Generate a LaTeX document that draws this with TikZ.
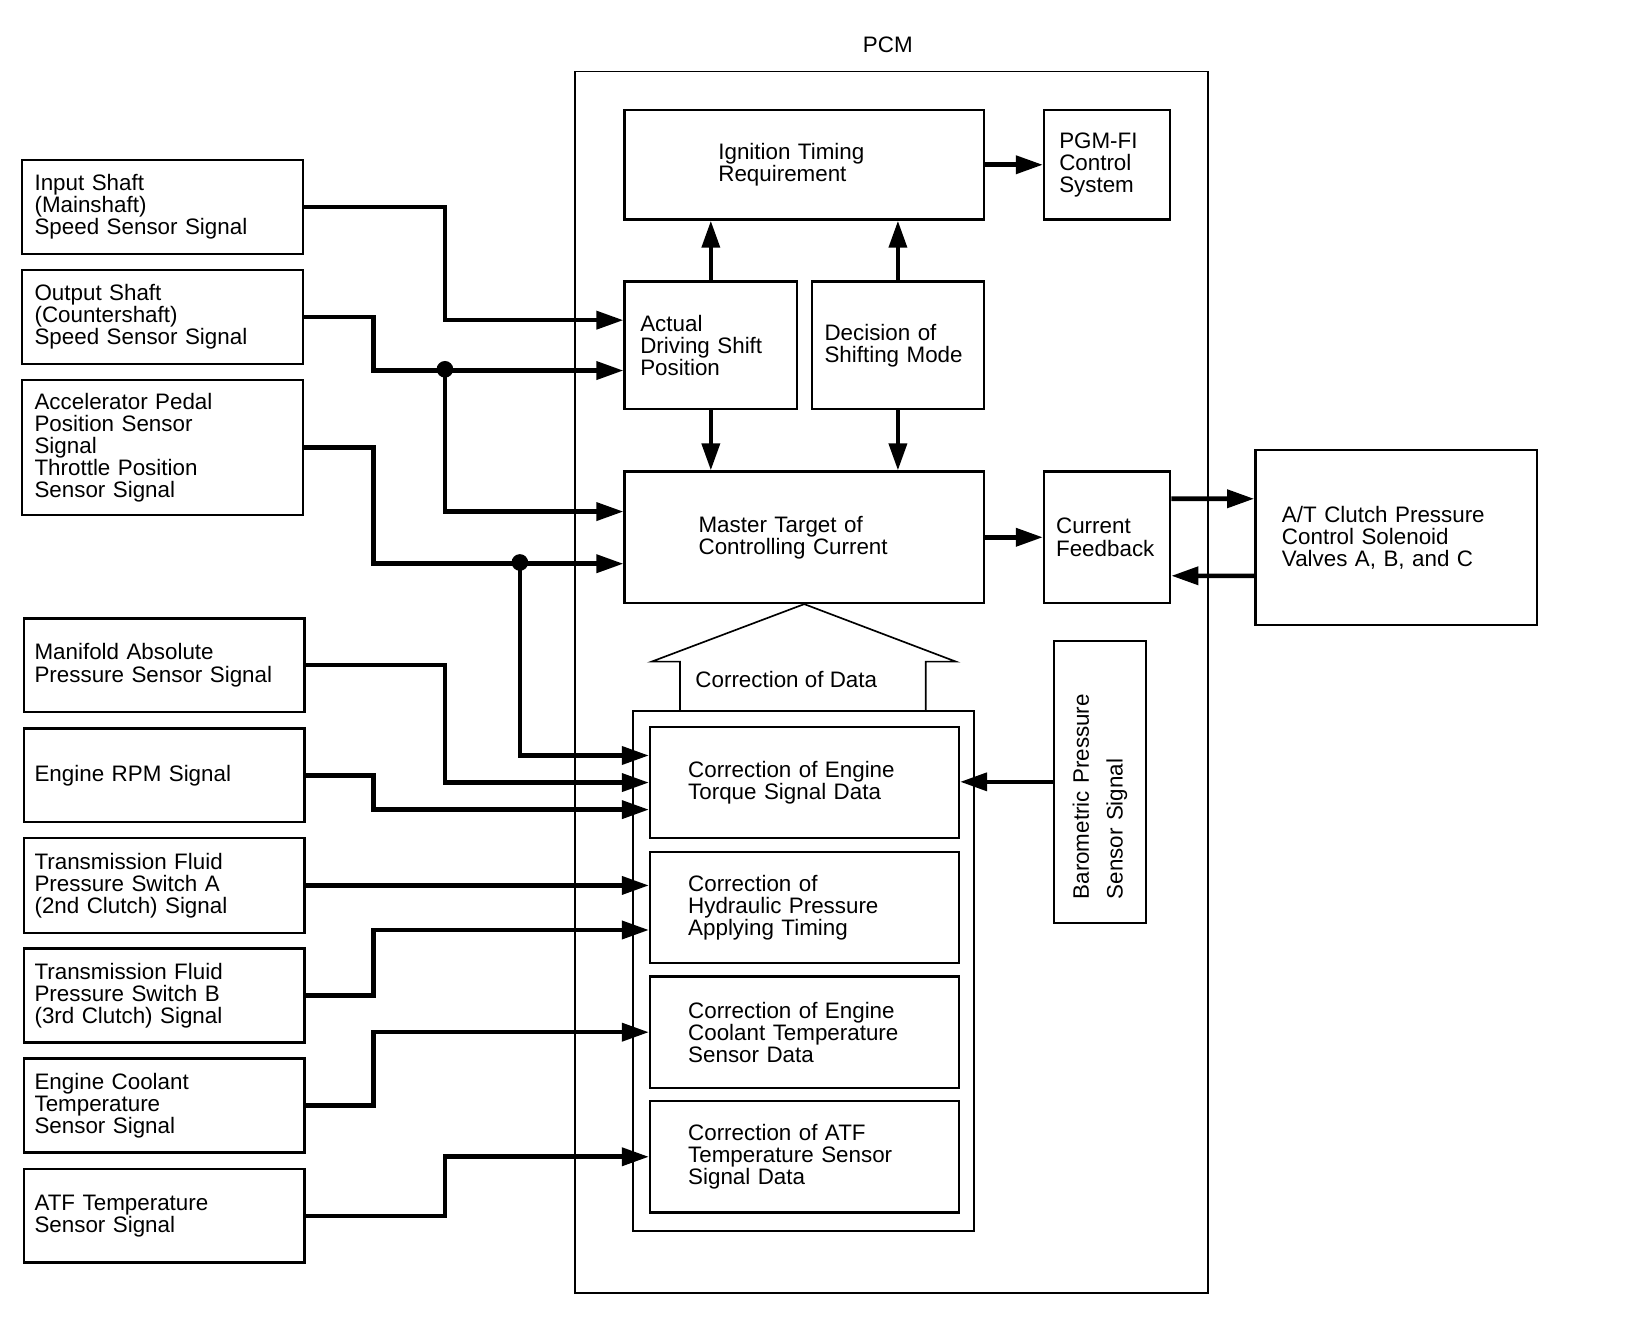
\documentclass[tikz,border=0pt]{standalone}
\usepackage{fontspec}
\setmainfont{Liberation Sans}
\usetikzlibrary{arrows.meta,calc}
\newcommand\fsz{\fontsize{10.75pt}{10.6pt}\selectfont}
\begin{document}
\begin{tikzpicture}[x=0.5pt,y=-0.5pt,
  box/.style={draw, line width=1.2pt, anchor=north west, inner ysep=0pt, align=left, font=\fsz},
  thinbox/.style={draw, line width=0.8pt, anchor=north west, inner sep=0pt},
  conn/.style={line width=2.2pt, -{Triangle[length=13pt,width=8.5pt]}},
  lbl/.style={font=\fsz, inner sep=0pt}]
\useasboundingbox (0,0) rectangle (1568,1276);

% PCM frame
\node[thinbox, minimum width=304.25pt, minimum height=586.7pt] (pcm) at (551.5,68) {};
\node[lbl] (pcml) at (853,42.7) {PCM};

% left input boxes
\node[box, minimum width=135pt, minimum height=45.2pt, text width=123pt, inner xsep=6pt] (in1) at (20,152.6) {Input Shaft\\(Mainshaft)\\Speed Sensor Signal};
\node[box, minimum width=135pt, minimum height=45.35pt, text width=123pt, inner xsep=6pt] (in2) at (20,258) {Output Shaft\\(Countershaft)\\Speed Sensor Signal};
\node[box, minimum width=135pt, minimum height=64.8pt, text width=123pt, inner xsep=6pt] (in3) at (20,364) {Accelerator Pedal\\Position Sensor\\Signal\\Throttle Position\\Sensor Signal};
\node[box, minimum width=134.75pt, minimum height=44.9pt, text width=124.75pt, inner xsep=5pt] (in4) at (22,593) {Manifold Absolute\\Pressure Sensor Signal};
\node[box, minimum width=134.75pt, minimum height=45pt, text width=124.75pt, inner xsep=5pt] (in5) at (22,698.6) {Engine RPM Signal};
\node[box, minimum width=134.75pt, minimum height=45.5pt, text width=124.75pt, inner xsep=5pt] (in6) at (22,804) {Transmission Fluid\\Pressure Switch A\\(2nd Clutch) Signal};
\node[box, minimum width=134.75pt, minimum height=45.3pt, text width=124.75pt, inner xsep=5pt] (in7) at (22,910) {Transmission Fluid\\Pressure Switch B\\(3rd Clutch) Signal};
\node[box, minimum width=134.75pt, minimum height=45pt, text width=124.75pt, inner xsep=5pt] (in8) at (22,1016) {Engine Coolant\\Temperature\\Sensor Signal};
\node[box, minimum width=134.75pt, minimum height=45pt, text width=124.75pt, inner xsep=5pt] (in9) at (22,1122) {ATF Temperature\\Sensor Signal};

% PCM internal boxes
\node[box, minimum width=172.5pt, minimum height=52.5pt, text width=82.5pt, inner xsep=45pt] (ign) at (599,104.6) {Ignition Timing\\Requirement};
\node[box, minimum width=60.5pt, minimum height=52.5pt, text width=46pt, inner xsep=7.25pt] (pgm) at (1002,104.6) {PGM-FI\\Control\\System};
\node[box, minimum width=82.75pt, minimum height=61.2pt, text width=67.75pt, inner xsep=7.5pt] (act) at (599,269.4) {Actual\\Driving Shift\\Position};
\node[box, minimum width=82.5pt, minimum height=61.2pt, text width=70.5pt, inner xsep=6pt] (dec) at (779,269.4) {Decision of\\Shifting Mode};
\node[box, minimum width=172.5pt, minimum height=63pt, text width=101.5pt, inner xsep=35.5pt] (mst) at (599,452) {Master Target of\\Controlling Current};
\node[box, minimum width=60.5pt, minimum height=63pt, text width=49pt, inner xsep=5.75pt] (cf) at (1002,452) {Current\\Feedback};
\node[box, minimum width=135.25pt, minimum height=84.05pt, text width=109.75pt, inner xsep=12.75pt] (at) at (1205,431.3) {A/T Clutch Pressure\\Control Solenoid\\Valves A, B, and C};

% correction of data block
\node[thinbox, minimum width=163.75pt, minimum height=249.8pt] (corr) at (607.5,682) {};
\draw[line width=0.8pt] (653.3,682) -- (653.3,635.7) -- (626,635.7) -- (mst.south) -- (918.5,635.7) -- (889.4,635.7) -- (889.4,682);
\node[lbl, anchor=west] (cdt) at (667.8,653.3) {Correction of Data};
\node[box, minimum width=148.25pt, minimum height=53.35pt, text width=111.75pt, inner xsep=18.25pt] (c1) at (623.5,697.3) {Correction of Engine\\Torque Signal Data};
\node[box, minimum width=148.25pt, minimum height=53.3pt, text width=111.75pt, inner xsep=18.25pt] (c2) at (623.5,817.4) {Correction of\\Hydraulic Pressure\\Applying Timing};
\node[box, minimum width=148.25pt, minimum height=53.5pt, text width=111.75pt, inner xsep=18.25pt] (c3) at (623.5,937) {Correction of Engine\\Coolant Temperature\\Sensor Data};
\node[box, minimum width=148.25pt, minimum height=53.5pt, text width=111.75pt, inner xsep=18.25pt] (c4) at (623.5,1056.7) {Correction of ATF\\Temperature Sensor\\Signal Data};

% barometric pressure
\node[box, anchor=center, rotate=90, minimum width=135.45pt, minimum height=44.25pt, text width=112.85pt, inner xsep=11.3pt, font=\fontsize{10.75pt}{16.25pt}\selectfont] (bar) at (1056.75,751.15) {Barometric Pressure\\Sensor Signal};

% junctions
\coordinate (j1) at (427.5,354.8);
\coordinate (j2) at (499.5,540.4);

% connectors from inputs
\draw[conn] (in1.east) -- (in1.east -| 427.5,0) |- ($(act.west)+(0,-24.2)$);
\draw[conn] (in2.east) -- (in2.east -| 359,0) |- ($(act.west)+(0,24.2)$);
\draw[conn] (j1) |- ($(mst.west)+(0,-24.7)$);
\draw[conn] (in3.east) -- (in3.east -| 359,0) |- ($(mst.west)+(0,25.4)$);
\draw[conn] (j2) |- ($(c1.west)+(0,-26)$);
\draw[conn] (in4.east) -- (in4.east -| 427.5,0) |- (c1.west);
\draw[conn] (in5.east) -- (in5.east -| 359,0) |- ($(c1.west)+(0,26)$);
\draw[conn] (in6.east) -- (in6.east -| c2.west);
\draw[conn] (in7.east) -- (in7.east -| 359,0) |- ($(c2.west)+(0,21.6)$);
\draw[conn] (in8.east) -- (in8.east -| 359,0) |- (c3.west);
\draw[conn] (in9.east) -- (in9.east -| 427.5,0) |- (c4.west);
\fill (j1) circle (4pt);
\fill (j2) circle (4pt);

% internal connectors
\draw[conn] (act.north) -- (ign.south -| act.north);
\draw[conn] (dec.north) -- (ign.south -| dec.north);
\draw[conn] (act.south) -- (mst.north -| act.south);
\draw[conn] (dec.south) -- (mst.north -| dec.south);
\draw[conn] (ign.east) -- (pgm.west);
\draw[conn] (mst.east) -- (cf.west);
\draw[conn] ($(cf.east)+(0,-37)$) -- ($(at.west)+(0,-37.35)$);
\draw[conn] ($(at.west)+(0,36.65)$) -- ($(cf.east)+(0,37)$);
\draw[conn] (bar.north) -- (bar.north -| c1.east);
\end{tikzpicture}
\end{document}
